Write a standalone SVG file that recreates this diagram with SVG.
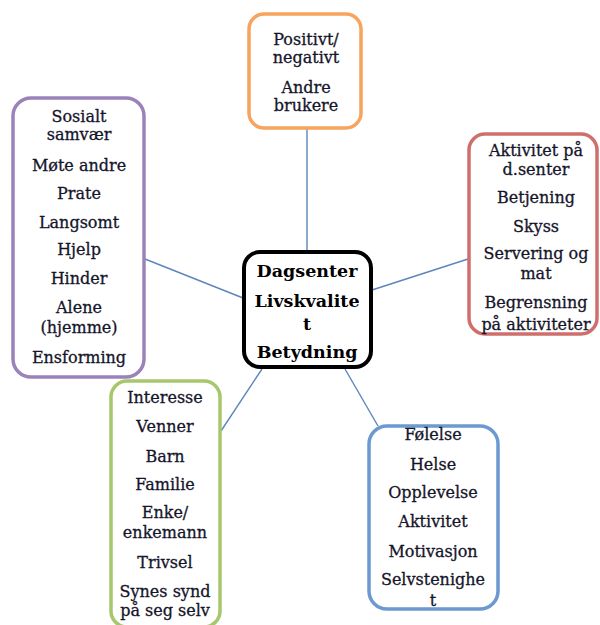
<svg xmlns="http://www.w3.org/2000/svg" width="600" height="625" viewBox="0 0 600 625">
<style>
.box{fill:#fff;stroke-width:3.5}
.t{font-family:"DejaVu Serif","Liberation Serif",serif;font-size:16px;fill:#15152a;stroke:#15152a;stroke-width:0.3;text-anchor:middle}
.b{font-family:"DejaVu Serif","Liberation Serif",serif;font-size:17.5px;font-weight:bold;fill:#000;text-anchor:middle}
.c{stroke:#5b86bc;stroke-width:1.4;fill:none}
</style>
<rect width="600" height="625" fill="#fff"/>
<g id="connectors">
<line class="c" x1="307" y1="128" x2="307" y2="252"/>
<line class="c" x1="145" y1="259" x2="243" y2="298"/>
<line class="c" x1="372" y1="290" x2="468" y2="259"/>
<line class="c" x1="262" y1="369" x2="221" y2="431"/>
<line class="c" x1="345" y1="369" x2="378" y2="426"/>
</g>
<g id="node-top">
<rect class="box" x="249" y="14" width="112" height="114" rx="15" stroke="#f6a45e"/>
<text class="t" x="306" y="45">Positivt/</text>
<text class="t" x="306" y="63">negativt</text>
<text class="t" x="306" y="93">Andre</text>
<text class="t" x="306" y="111">brukere</text>
</g>
<g id="node-right">
<rect class="box" x="469" y="134" width="128" height="200" rx="16" stroke="#cf6f6c"/>
<text class="t" x="536" y="156">Aktivitet på</text>
<text class="t" x="536" y="175">d.senter</text>
<text class="t" x="536" y="203">Betjening</text>
<text class="t" x="536" y="232">Skyss</text>
<text class="t" x="536" y="259">Servering og</text>
<text class="t" x="536" y="279">mat</text>
<text class="t" x="536" y="308">Begrensning</text>
<text class="t" x="536" y="330">på aktiviteter</text>
</g>
<g id="node-left">
<rect class="box" x="13" y="98" width="131" height="279" rx="18" stroke="#9a82bb"/>
<text class="t" x="79" y="122">Sosialt</text>
<text class="t" x="79" y="140">samvær</text>
<text class="t" x="79" y="171">Møte andre</text>
<text class="t" x="79" y="199">Prate</text>
<text class="t" x="79" y="228">Langsomt</text>
<text class="t" x="79" y="255">Hjelp</text>
<text class="t" x="79" y="284">Hinder</text>
<text class="t" x="79" y="313">Alene</text>
<text class="t" x="79" y="333">(hjemme)</text>
<text class="t" x="79" y="363">Ensforming</text>
</g>
<g id="node-center">
<rect x="244" y="252" width="127" height="115" rx="16" fill="#fff" stroke="#000" stroke-width="4"/>
<text class="b" x="307" y="277">Dagsenter</text>
<text class="b" x="307" y="307">Livskvalite</text>
<text class="b" x="307" y="330">t</text>
<text class="b" x="307" y="358">Betydning</text>
</g>
<g id="node-bottom-left">
<rect class="box" x="111" y="381" width="109" height="246" rx="16" stroke="#a6c76c"/>
<text class="t" x="165" y="403">Interesse</text>
<text class="t" x="165" y="432">Venner</text>
<text class="t" x="165" y="462">Barn</text>
<text class="t" x="165" y="490">Familie</text>
<text class="t" x="165" y="518">Enke/</text>
<text class="t" x="165" y="538">enkemann</text>
<text class="t" x="165" y="568">Trivsel</text>
<text class="t" x="165" y="597">Synes synd</text>
<text class="t" x="165" y="616">på seg selv</text>
</g>
<g id="node-bottom-right">
<rect class="box" x="369" y="426" width="129" height="183" rx="18" stroke="#6b99d0"/>
<text class="t" x="433" y="440">Følelse</text>
<text class="t" x="433" y="470">Helse</text>
<text class="t" x="433" y="498">Opplevelse</text>
<text class="t" x="433" y="527">Aktivitet</text>
<text class="t" x="433" y="557">Motivasjon</text>
<text class="t" x="433" y="585">Selvstenighe</text>
<text class="t" x="433" y="606">t</text>
</g>
</svg>
